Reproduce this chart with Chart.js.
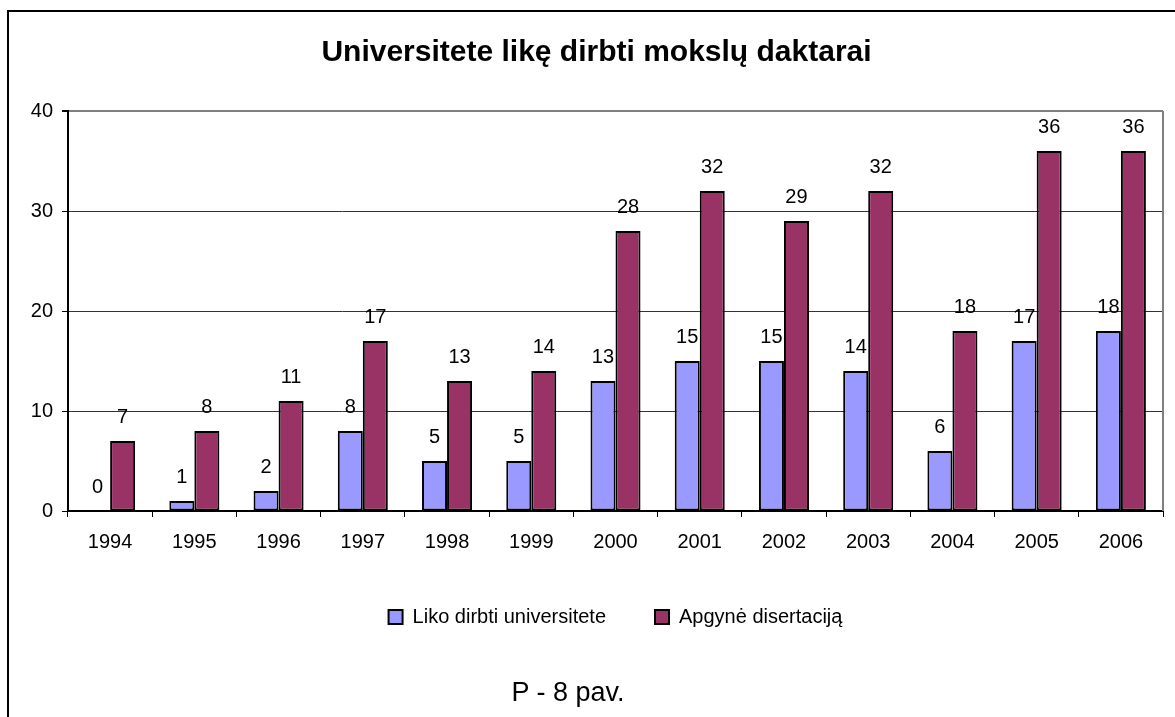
<!DOCTYPE html>
<html>
<head>
<meta charset="utf-8">
<script src="https://cdn.jsdelivr.net/npm/chart.js@4"></script>
<style>
  body { margin: 0; background: #fff; overflow: hidden; }
  #wrap { position: relative; width: 1175px; height: 717px; }
  #frame { position: absolute; left: 7px; top: 10px; width: 1300px; height: 800px;
           border-left: 2px solid #000; border-top: 2px solid #000; }
  #myChart { position: absolute; left: 0; top: 0; }
  #caption { position: absolute; left: 368px; top: 677px; width: 400px; text-align: center;
             font: 27px "Liberation Sans", Arial, sans-serif; line-height: 30px; color: #000; }
</style>
</head>
<body>
<div id="wrap">
  <div id="frame"></div>
  <canvas id="myChart" width="1175" height="717"></canvas>
  <div id="caption">P - 8 pav.</div>
</div>
<script>
  const years = ['1994', '1995', '1996', '1997', '1998', '1999', '2000', '2001', '2002', '2003', '2004', '2005', '2006'];
  const likoDirbti = [0, 1, 2, 8, 5, 5, 13, 15, 15, 14, 6, 17, 18];
  const apgyne = [7, 8, 11, 17, 13, 14, 28, 32, 29, 32, 18, 36, 36];
  const yTicks = [0, 10, 20, 30, 40];

  const font = 'Liberation Sans';

  const data = {
    labels: years,
    datasets: [{
      label: 'Liko dirbti universitete',
      data: likoDirbti,
      backgroundColor: '#9999FF',
      borderColor: '#000',
      borderWidth: 2,
      borderSkipped: false,
      categoryPercentage: 0.594,
      barPercentage: 1
    }, {
      label: 'Apgynė disertaciją',
      data: apgyne,
      backgroundColor: '#993366',
      borderColor: '#000',
      borderWidth: 2,
      borderSkipped: false,
      categoryPercentage: 0.594,
      barPercentage: 1
    }]
  };

  // numbers over the bars
  const valueLabels = {
    id: 'valueLabels',
    afterDatasetsDraw(chart) {
      const ctx = chart.ctx;
      ctx.save();
      ctx.font = '20px ' + font;
      ctx.fillStyle = '#000';
      ctx.textAlign = 'center';
      ctx.textBaseline = 'middle';
      chart.data.datasets.forEach((ds, i) => {
        chart.getDatasetMeta(i).data.forEach((bar, j) => {
          ctx.fillText(String(ds.data[j]), bar.x, bar.y - 24);
        });
      });
      ctx.restore();
    }
  };

  // grey plot border on the right side
  const plotBorder = {
    id: 'plotBorder',
    afterDraw(chart) {
      const a = chart.chartArea;
      const ctx = chart.ctx;
      ctx.save();
      ctx.strokeStyle = '#808080';
      ctx.lineWidth = 2;
      ctx.beginPath();
      ctx.moveTo(a.right, a.top);
      ctx.lineTo(a.right, a.bottom);
      ctx.stroke();
      ctx.restore();
    }
  };

  const config = {
    type: 'bar',
    data,
    options: {
      responsive: false,
      animation: false,
      layout: {
        padding: { left: 30, right: 12, top: 0, bottom: 80 }
      },
      scales: {
        x: {
          afterFit(scale) { scale.height = 47; },
          grid: {
            drawOnChartArea: false,
            tickLength: 6,
            tickColor: '#000'
          },
          border: { color: '#000', width: 2 },
          ticks: {
            color: '#000',
            padding: 13,
            font: { family: font, size: 20 }
          }
        },
        y: {
          min: 0,
          max: 40,
          afterFit(scale) { scale.width = 38; },
          afterBuildTicks(scale) { scale.ticks = yTicks.map(v => ({ value: v })); },
          grid: {
            color: ctx => ctx.tick && ctx.tick.value === 40 ? '#808080' : '#333',
            lineWidth: ctx => ctx.tick && ctx.tick.value === 40 ? 2 : 1,
            tickLength: 6,
            tickColor: '#000'
          },
          border: { color: '#000', width: 2 },
          ticks: {
            color: '#000',
            padding: 9,
            font: { family: font, size: 20 }
          }
        }
      },
      plugins: {
        title: {
          display: true,
          text: 'Universitete likę dirbti mokslų daktarai',
          color: '#000',
          font: { family: font, size: 30, weight: 'bold' },
          padding: { top: 35, bottom: 40 }
        },
        legend: {
          position: 'bottom',
          fullSize: false,
          labels: {
            color: '#000',
            boxWidth: 14,
            boxHeight: 14,
            padding: 49,
            font: { family: font, size: 20 }
          }
        },
        tooltip: { enabled: false }
      }
    },
    plugins: [valueLabels, plotBorder]
  };

  // render init block
  const myChart = new Chart(
    document.getElementById('myChart'),
    config
  );
</script>
</body>
</html>
